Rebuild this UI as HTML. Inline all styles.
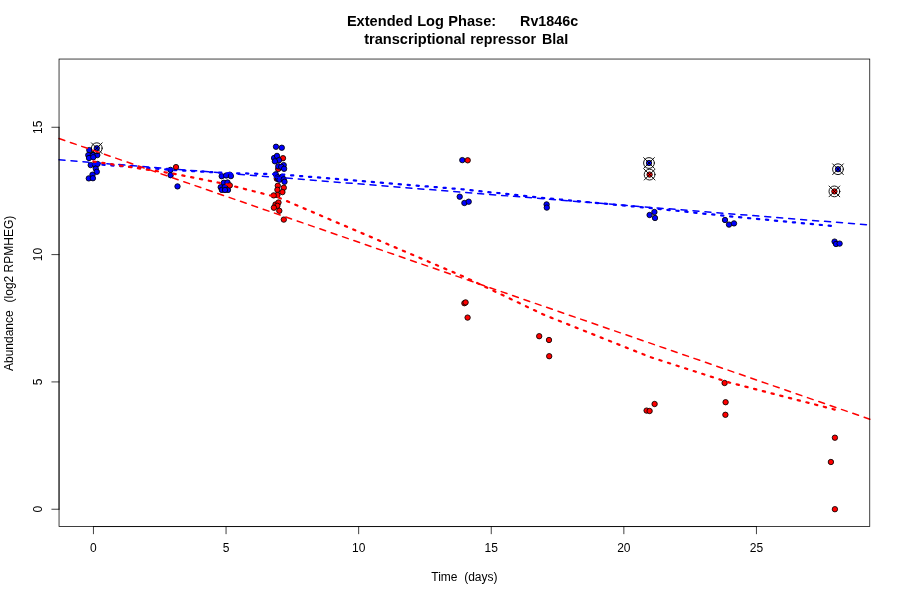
<!DOCTYPE html>
<html lang="en">
<head>
<meta charset="utf-8">
<title>Extended Log Phase: Rv1846c transcriptional repressor BlaI</title>
<style>
html,body{margin:0;padding:0;background:#fff;}
body{width:900px;height:600px;overflow:hidden;}
svg{display:block;}
text{font-family:"Liberation Sans",sans-serif;fill:#000;white-space:pre;}
.t{font-size:14.6px;font-weight:bold;}
.t2{font-size:14.3px;}
.t3{font-size:14.3px;}
.a{font-size:12px;}
.bx{stroke:#000;stroke-width:0.75;fill:none;}
.ax{stroke:#000;stroke-width:0.75;fill:none;stroke-linecap:round;}
.pt{stroke:#000;stroke-width:0.85;}
.b{fill:#0000ff;}
.r{fill:#ff0000;}
.m{stroke:#000;stroke-width:0.9;fill:none;stroke-linecap:round;}
.da{fill:none;stroke-width:1.5;stroke-dasharray:6 6;stroke-linecap:round;}
.do{fill:none;stroke-width:2.25;stroke-dasharray:2.25 6.75;stroke-linecap:round;stroke-linejoin:round;}
</style>
</head>
<body>
<svg width="900" height="600" viewBox="0 0 900 600">
<rect x="0" y="0" width="900" height="600" fill="#fff"/>
<g id="points-a">
<circle class="pt r" cx="283.00" cy="158.20" r="2.70"/>
<circle class="pt r" cx="278.20" cy="169.00" r="2.70"/>
<circle class="pt r" cx="276.80" cy="178.70" r="2.70"/>
<circle class="pt b" cx="89.30" cy="150.10" r="2.70"/>
<circle class="pt b" cx="96.80" cy="148.20" r="2.70"/>
<circle class="pt b" cx="88.30" cy="155.10" r="2.70"/>
<circle class="pt b" cx="92.90" cy="154.70" r="2.70"/>
<circle class="pt b" cx="97.30" cy="155.10" r="2.70"/>
<circle class="pt b" cx="89.00" cy="158.00" r="2.70"/>
<circle class="pt b" cx="93.30" cy="157.20" r="2.70"/>
<circle class="pt b" cx="90.70" cy="165.10" r="2.70"/>
<circle class="pt b" cx="95.00" cy="164.50" r="2.70"/>
<circle class="pt b" cx="97.50" cy="164.00" r="2.70"/>
<circle class="pt b" cx="95.80" cy="168.70" r="2.70"/>
<circle class="pt b" cx="96.80" cy="171.80" r="2.70"/>
<circle class="pt b" cx="92.50" cy="174.70" r="2.70"/>
<circle class="pt b" cx="88.80" cy="178.40" r="2.70"/>
<circle class="pt b" cx="92.90" cy="178.20" r="2.70"/>
<circle class="pt b" cx="170.50" cy="169.90" r="2.70"/>
<circle class="pt b" cx="170.60" cy="175.20" r="2.70"/>
<circle class="pt b" cx="177.50" cy="186.40" r="2.70"/>
<circle class="pt b" cx="221.70" cy="176.20" r="2.70"/>
<circle class="pt b" cx="229.80" cy="174.70" r="2.70"/>
<circle class="pt b" cx="226.20" cy="175.50" r="2.70"/>
<circle class="pt b" cx="230.90" cy="176.10" r="2.70"/>
<circle class="pt b" cx="223.80" cy="182.80" r="2.70"/>
<circle class="pt b" cx="227.50" cy="182.50" r="2.70"/>
<circle class="pt b" cx="220.70" cy="187.20" r="2.70"/>
<circle class="pt b" cx="221.90" cy="189.90" r="2.70"/>
<circle class="pt b" cx="224.80" cy="187.00" r="2.70"/>
<circle class="pt b" cx="228.00" cy="189.90" r="2.70"/>
<circle class="pt b" cx="225.00" cy="190.00" r="2.70"/>
<circle class="pt b" cx="276.00" cy="146.75" r="2.70"/>
<circle class="pt b" cx="281.80" cy="147.75" r="2.70"/>
<circle class="pt b" cx="274.10" cy="158.00" r="2.70"/>
<circle class="pt b" cx="277.00" cy="155.90" r="2.70"/>
<circle class="pt b" cx="279.00" cy="160.20" r="2.70"/>
<circle class="pt b" cx="274.90" cy="161.30" r="2.70"/>
<circle class="pt b" cx="278.30" cy="166.30" r="2.70"/>
<circle class="pt b" cx="283.70" cy="165.10" r="2.70"/>
<circle class="pt b" cx="281.20" cy="166.80" r="2.70"/>
<circle class="pt b" cx="284.10" cy="168.80" r="2.70"/>
<circle class="pt b" cx="275.80" cy="174.30" r="2.70"/>
<circle class="pt b" cx="277.80" cy="177.20" r="2.70"/>
<circle class="pt b" cx="278.20" cy="178.90" r="2.70"/>
<circle class="pt b" cx="282.00" cy="176.80" r="2.70"/>
<circle class="pt b" cx="279.50" cy="179.70" r="2.70"/>
<circle class="pt b" cx="283.70" cy="179.30" r="2.70"/>
<circle class="pt b" cx="284.50" cy="181.80" r="2.70"/>
<circle class="pt b" cx="462.30" cy="160.10" r="2.70"/>
<circle class="pt b" cx="459.70" cy="196.70" r="2.70"/>
<circle class="pt b" cx="464.40" cy="203.00" r="2.70"/>
<circle class="pt b" cx="468.70" cy="201.70" r="2.70"/>
<circle class="pt b" cx="546.60" cy="204.40" r="2.70"/>
<circle class="pt b" cx="546.80" cy="207.60" r="2.70"/>
<circle class="pt b" cx="649.60" cy="215.00" r="2.70"/>
<circle class="pt b" cx="654.40" cy="212.00" r="2.70"/>
<circle class="pt b" cx="655.00" cy="218.00" r="2.70"/>
<circle class="pt b" cx="649.00" cy="163.00" r="2.70"/>
<circle class="pt b" cx="725.00" cy="220.00" r="2.70"/>
<circle class="pt b" cx="729.00" cy="224.60" r="2.70"/>
<circle class="pt b" cx="734.00" cy="223.40" r="2.70"/>
<circle class="pt b" cx="834.60" cy="241.60" r="2.70"/>
<circle class="pt b" cx="836.00" cy="244.00" r="2.70"/>
<circle class="pt b" cx="839.60" cy="243.60" r="2.70"/>
<circle class="pt b" cx="838.00" cy="169.20" r="2.70"/>
<circle class="m" cx="96.80" cy="148.20" r="5.40"/><path class="m" d="M91.40 142.80L102.20 153.60M91.40 153.60L102.20 142.80"/>
</g>
<g id="fit-a">
<line class="da" stroke="#0000ff" x1="59.04" y1="159.80" x2="869.76" y2="225.00"/>
<polyline class="do" stroke="#0000ff" points="93.40,164.00 172.90,170.00 226.00,173.00 279.00,174.30 464.50,189.50 544.00,198.00 650.00,208.00 729.60,216.30 835.70,226.30"/>
</g>
<g id="points-b">
<circle class="pt r" cx="176.00" cy="167.10" r="2.70"/>
<circle class="pt r" cx="229.80" cy="185.40" r="2.70"/>
<circle class="pt r" cx="277.80" cy="185.70" r="2.70"/>
<circle class="pt r" cx="283.80" cy="187.70" r="2.70"/>
<circle class="pt r" cx="277.40" cy="189.80" r="2.70"/>
<circle class="pt r" cx="282.40" cy="192.10" r="2.70"/>
<circle class="pt r" cx="277.40" cy="195.00" r="2.70"/>
<circle class="pt r" cx="273.70" cy="195.40" r="2.70"/>
<circle class="pt r" cx="275.50" cy="204.50" r="2.70"/>
<circle class="pt r" cx="278.50" cy="202.50" r="2.70"/>
<circle class="pt r" cx="277.40" cy="205.80" r="2.70"/>
<circle class="pt r" cx="273.90" cy="207.70" r="2.70"/>
<circle class="pt r" cx="279.30" cy="210.80" r="2.70"/>
<circle class="pt r" cx="283.80" cy="219.60" r="2.70"/>
<circle class="pt r" cx="467.70" cy="160.30" r="2.70"/>
<circle class="pt r" cx="464.40" cy="303.20" r="2.70"/>
<circle class="pt r" cx="465.60" cy="302.40" r="2.70"/>
<circle class="pt r" cx="467.60" cy="317.60" r="2.70"/>
<circle class="pt r" cx="539.20" cy="336.20" r="2.70"/>
<circle class="pt r" cx="549.00" cy="340.00" r="2.70"/>
<circle class="pt r" cx="549.20" cy="356.20" r="2.70"/>
<circle class="pt r" cx="654.60" cy="404.00" r="2.70"/>
<circle class="pt r" cx="646.60" cy="410.60" r="2.70"/>
<circle class="pt r" cx="649.60" cy="411.00" r="2.70"/>
<circle class="pt r" cx="649.60" cy="174.60" r="2.70"/>
<circle class="pt r" cx="724.60" cy="383.00" r="2.70"/>
<circle class="pt r" cx="725.60" cy="402.20" r="2.70"/>
<circle class="pt r" cx="725.40" cy="414.80" r="2.70"/>
<circle class="pt r" cx="834.90" cy="437.70" r="2.70"/>
<circle class="pt r" cx="830.90" cy="462.00" r="2.70"/>
<circle class="pt r" cx="834.90" cy="509.20" r="2.70"/>
<circle class="pt r" cx="834.40" cy="191.40" r="2.70"/>
</g>
<g id="fit-b">
<line class="da" stroke="#ff0000" x1="59.04" y1="138.50" x2="869.76" y2="419.20"/>
<polyline class="do" stroke="#ff0000" points="93.40,161.50 172.90,173.50 226.00,184.20 279.00,197.70 464.50,277.00 544.00,314.80 650.00,357.00 729.60,382.60 835.70,409.80"/>
</g>
<g id="marks">
<circle class="m" cx="649.00" cy="163.00" r="5.40"/><path class="m" d="M643.60 157.60L654.40 168.40M643.60 168.40L654.40 157.60"/>
<circle class="m" cx="649.60" cy="174.60" r="5.40"/><path class="m" d="M644.20 169.20L655.00 180.00M644.20 180.00L655.00 169.20"/>
<circle class="m" cx="838.00" cy="169.20" r="5.40"/><path class="m" d="M832.60 163.80L843.40 174.60M832.60 174.60L843.40 163.80"/>
<circle class="m" cx="834.40" cy="191.40" r="5.40"/><path class="m" d="M829.00 186.00L839.80 196.80M829.00 196.80L839.80 186.00"/>
</g>
<g id="axes">
<rect class="bx" x="59.04" y="59.04" width="810.72" height="467.52"/>
<line class="ax" x1="93.45" y1="526.56" x2="756.45" y2="526.56"/>
<line class="ax" x1="93.45" y1="526.56" x2="93.45" y2="533.76"/>
<line class="ax" x1="226.05" y1="526.56" x2="226.05" y2="533.76"/>
<line class="ax" x1="358.65" y1="526.56" x2="358.65" y2="533.76"/>
<line class="ax" x1="491.25" y1="526.56" x2="491.25" y2="533.76"/>
<line class="ax" x1="623.85" y1="526.56" x2="623.85" y2="533.76"/>
<line class="ax" x1="756.45" y1="526.56" x2="756.45" y2="533.76"/>
<line class="ax" x1="59.04" y1="509.24" x2="59.04" y2="127.28"/>
<line class="ax" x1="59.04" y1="509.24" x2="51.84" y2="509.24"/>
<line class="ax" x1="59.04" y1="381.92" x2="51.84" y2="381.92"/>
<line class="ax" x1="59.04" y1="254.60" x2="51.84" y2="254.60"/>
<line class="ax" x1="59.04" y1="127.28" x2="51.84" y2="127.28"/>
<text class="a" x="93.45" y="552.3" text-anchor="middle">0</text>
<text class="a" x="226.05" y="552.3" text-anchor="middle">5</text>
<text class="a" x="358.65" y="552.3" text-anchor="middle">10</text>
<text class="a" x="491.25" y="552.3" text-anchor="middle">15</text>
<text class="a" x="623.85" y="552.3" text-anchor="middle">20</text>
<text class="a" x="756.45" y="552.3" text-anchor="middle">25</text>
<text class="a" transform="translate(41.6 509.24) rotate(-90)" text-anchor="middle">0</text>
<text class="a" transform="translate(41.6 381.92) rotate(-90)" text-anchor="middle">5</text>
<text class="a" transform="translate(41.6 254.60) rotate(-90)" text-anchor="middle">10</text>
<text class="a" transform="translate(41.6 127.28) rotate(-90)" text-anchor="middle">15</text>
</g>
<g id="labels">
<text class="t" x="346.9" y="26.1">Extended<tspan dx="0.5"> Log</tspan><tspan dx="0.4"> Phase:</tspan><tspan x="496.6" class="t2">     </tspan><tspan x="520.1" class="t2">Rv1846c</tspan></text>
<text class="t" x="364.2" y="43.8">transcriptional<tspan dx="0.6" class="t3"> repressor</tspan><tspan x="537.5"> </tspan><tspan x="541.9" class="t3">BlaI</tspan></text>
<text class="a" x="464.4" y="581.1" text-anchor="middle">Time  (days)</text>
<text class="a" transform="translate(13 371) rotate(-90)">Abundance<tspan dx="1.2">  (log2 RPMHEG)</tspan></text>
</g>
</svg>
</body>
</html>
